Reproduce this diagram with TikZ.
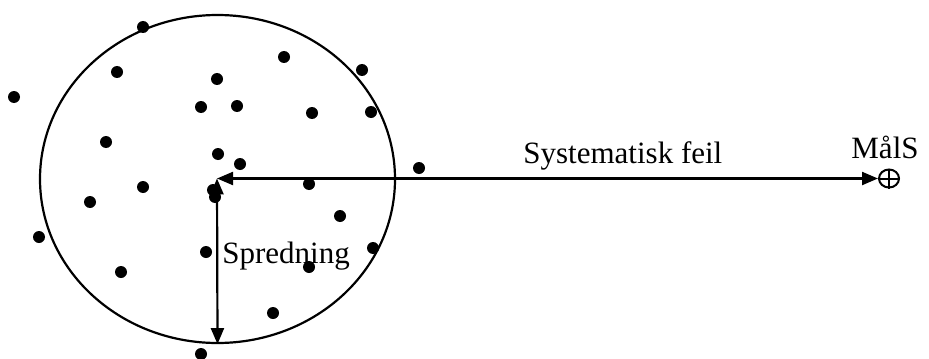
\documentclass[tikz,border=0pt]{standalone}
\usepackage{fontspec}
\setmainfont{Liberation Serif}
\usetikzlibrary{positioning, shapes, arrows.meta}

\tikzset{
  treff/.style={fill=black},
  pil/.style={<->, line width=1.1pt},
  tekst/.style={inner sep=0pt, font=\fontsize{15.5}{18}\selectfont}
}

\begin{document}
\begin{tikzpicture}[x=0.5pt, y=-0.5pt, >={Triangle[length=8pt, width=6.5pt]}]
  \useasboundingbox (0,0) rectangle (929,358);

  \node[draw, ellipse, line width=1.1pt, minimum width=177.5pt, minimum height=164pt, inner sep=0pt] (sky) at (217.5,179) {};

  \coordinate (midt) at (217,178.5);

  \node[draw, ellipse, line width=1pt, minimum width=10pt, minimum height=9pt, inner sep=0pt] (maal) at (889,178.5) {};
  \draw[line width=1pt] (maal.north) -- (maal.south) (maal.west) -- (maal.east);

  \node[tekst, anchor=base west] (spredning) at (222,263) {Spredning};
  \node[tekst, anchor=base west] (feil) at (523,163) {Systematisk feil};
  \node[tekst, anchor=base] (maalnavn) at (885,158) {MålS};

  \draw[pil] (midt) -- (maal.west);
  \draw[pil] (midt) -- (sky.south);

  \foreach \px/\py in {143/27, 284/57, 362/70, 117/72, 217/79, 14/97, 201/107, 237/106,
                       312/113, 371/112, 106/142, 218/154, 240/164, 419/168, 143/187,
                       309/184, 90/202, 213/190, 215/197, 340/216, 39/237, 206/252,
                       373/248, 121/272, 309/267, 273/313, 201/354}
    \fill[treff] (\px,\py) circle (3pt);
\end{tikzpicture}
\end{document}
